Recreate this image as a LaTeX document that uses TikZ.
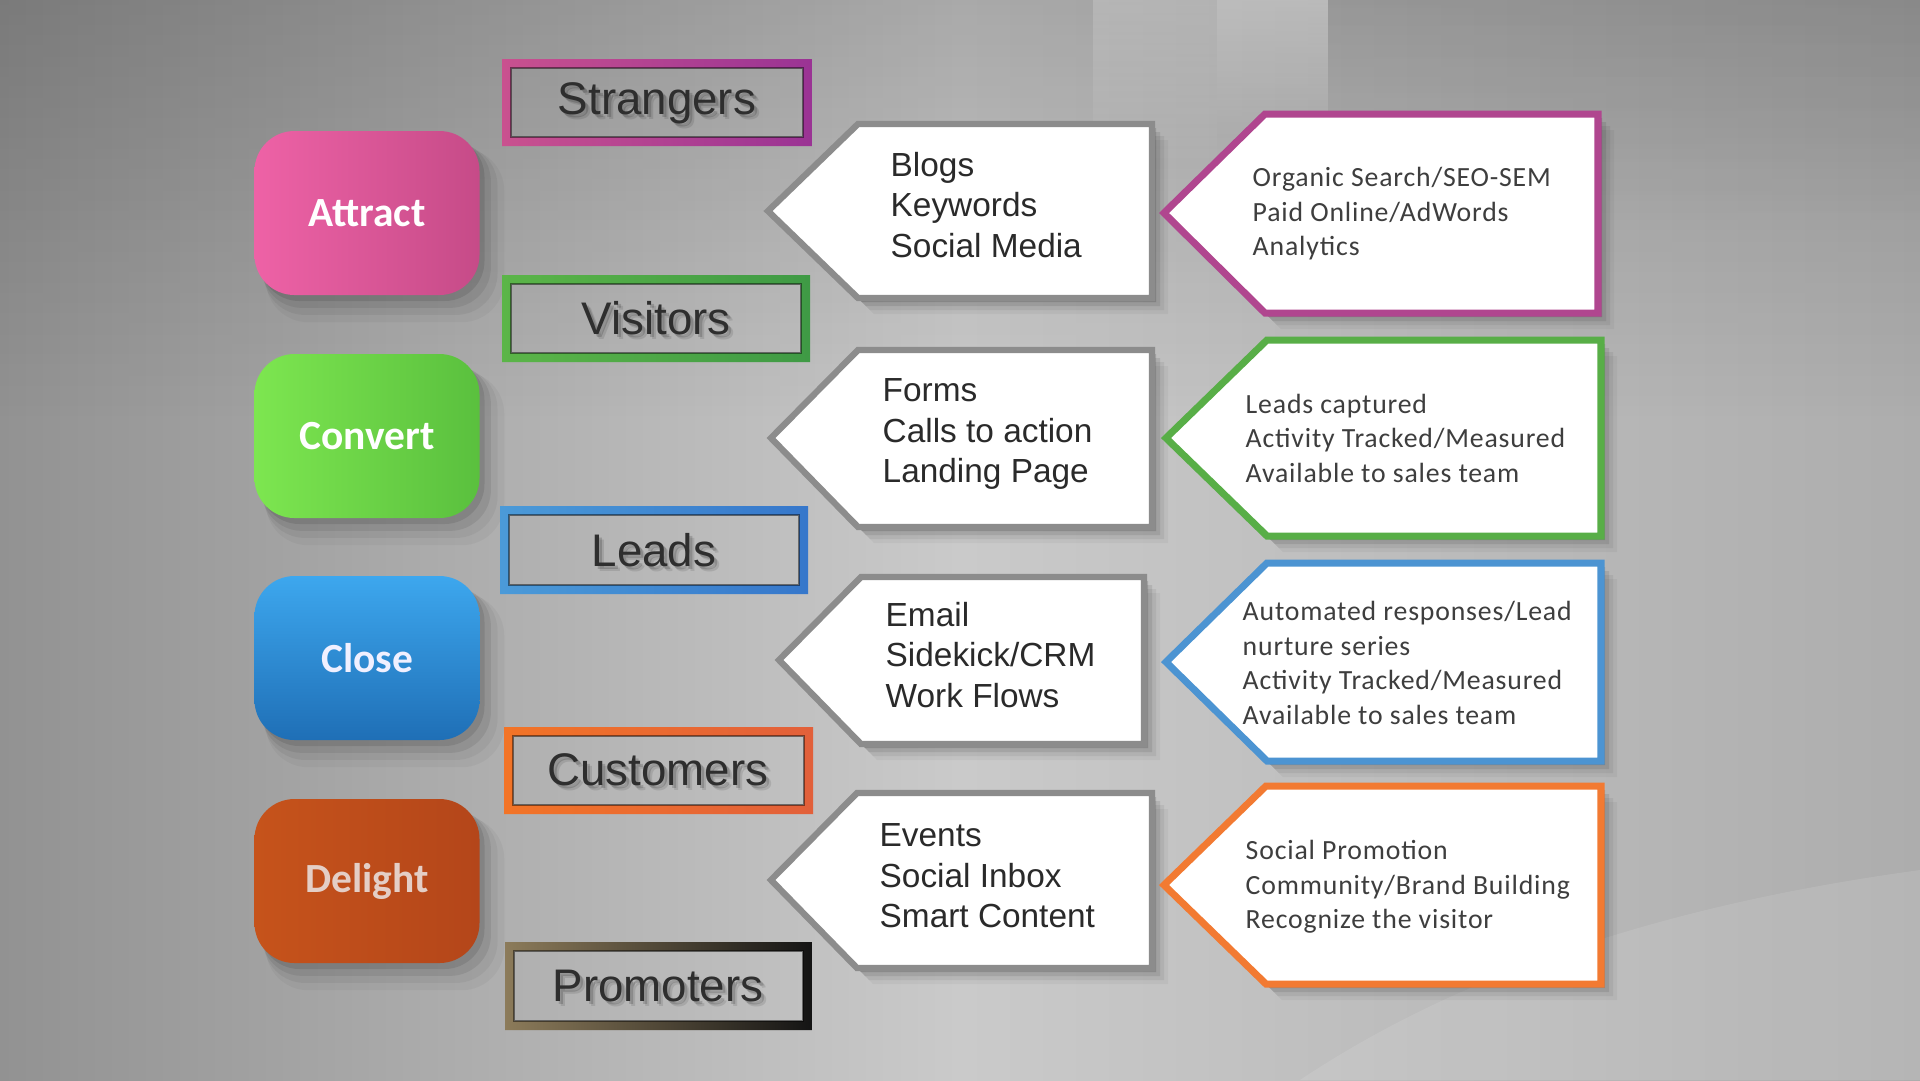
\documentclass[tikz,border=0pt]{standalone}
\usepackage{fontspec}
\setmainfont{Liberation Sans}
\newfontfamily\calib[LetterSpace=3]{Carlito}
\newfontfamily\calibb{Carlito}
\usetikzlibrary{shadows,fadings}

\definecolor{bgL}{HTML}{929292}
\definecolor{bgM}{HTML}{CACACA}
\definecolor{bgR}{HTML}{ADADAD}
\definecolor{midborder}{HTML}{8C8C8C}
\definecolor{midtxt}{HTML}{2A2A2A}
\definecolor{righttxt}{HTML}{3E3E3E}
\definecolor{lbltxt}{HTML}{2E2E2E}
\definecolor{pinkA}{HTML}{EE62A6}
\definecolor{pinkB}{HTML}{C64B88}
\definecolor{greenA}{HTML}{7DE650}
\definecolor{greenB}{HTML}{5AC03E}
\definecolor{blueA}{HTML}{3DA7EE}
\definecolor{blueB}{HTML}{1F6FB6}
\definecolor{orA}{HTML}{C6531B}
\definecolor{orB}{HTML}{B4461A}
\definecolor{delighttxt}{HTML}{E4CEC6}
\definecolor{fPinkL}{HTML}{C9518F}
\definecolor{fPinkR}{HTML}{9A3394}
\definecolor{fGreenL}{HTML}{5BB548}
\definecolor{fGreenR}{HTML}{3F9A45}
\definecolor{fBlueL}{HTML}{4B9AD8}
\definecolor{fBlueR}{HTML}{3677CB}
\definecolor{fOrL}{HTML}{F27427}
\definecolor{fOrR}{HTML}{E2603A}
\definecolor{fBlkL}{HTML}{8C7B5A}
\definecolor{fBlkR}{HTML}{141414}
\definecolor{rPink}{HTML}{B0468F}
\definecolor{rGreen}{HTML}{58AE47}
\definecolor{rBlue}{HTML}{4C94D2}
\definecolor{rOrange}{HTML}{F27A32}

\tikzfading[name=fadedown, top color=transparent!0, bottom color=transparent!100]

\begin{document}
\begin{tikzpicture}[x=0.1mm,y=-0.1mm,
  btnshadow/.style={drop shadow={shadow xshift=0.5mm, shadow yshift=-0.6mm, opacity=.10, fill=black},
                    drop shadow={shadow xshift=0.9mm, shadow yshift=-1.1mm, opacity=.07, fill=black, shadow scale=1.02},
                    drop shadow={shadow xshift=1.3mm, shadow yshift=-1.6mm, opacity=.05, fill=black, shadow scale=1.04},
                    drop shadow={shadow xshift=1.7mm, shadow yshift=-2.1mm, opacity=.035, fill=black, shadow scale=1.06}},
  btn/.style={rounded corners=4mm, minimum width=22.5mm, minimum height=16.4mm,
              font=\calibb\bfseries\fontsize{11.8}{14}\selectfont, btnshadow},
  pentshadow/.style={drop shadow={shadow xshift=0.4mm, shadow yshift=-0.4mm, opacity=.14, fill=black},
                     drop shadow={shadow xshift=0.8mm, shadow yshift=-0.8mm, opacity=.09, fill=black},
                     drop shadow={shadow xshift=1.2mm, shadow yshift=-1.2mm, opacity=.06, fill=black},
                     drop shadow={shadow xshift=1.6mm, shadow yshift=-1.6mm, opacity=.04, fill=black}},
  midbox/.style={draw=midborder, line width=1.8pt, fill=white, line join=miter, pentshadow},
  rightbox/.style={draw=#1, line width=2pt, fill=white, line join=miter, pentshadow},
  midtext/.style={anchor=west, align=left, inner sep=0pt, text=midtxt, font=\fontsize{9.5}{11.5}\selectfont},
  righttext/.style={anchor=west, align=left, inner sep=0pt, text=righttxt, font=\calib\fontsize{7.9}{9.8}\selectfont},
  lbl/.style={text=lbltxt, font=\fontsize{13}{15}\selectfont},
  lblsh/.style={text=black, opacity=#1, font=\fontsize{13}{15}\selectfont},
  innerline/.style={draw=black, opacity=.45, line width=0.5pt}
]
\useasboundingbox (0,0) rectangle (1920,1080);

% background
\shade[left color=bgL, right color=bgR, middle color=bgM] (0,0) rectangle (1920,1080);
\fill[black, opacity=.16, path fading=fadedown] (0,0) rectangle (1920,420);
\fill[white, opacity=.18, path fading=fadedown] (1093,0) rectangle (1217,170);
\fill[white, opacity=.28, path fading=fadedown] (1217,0) rectangle (1328,140);
\fill[black, opacity=.05, path fading=fadedown] (1328,0) rectangle (1920,220);
\fill[white, opacity=.10] (1300,1080) .. controls (1480,960) and (1700,900) .. (1920,870) -- (1920,1080) -- cycle;

% buttons
\node[btn, left color=pinkA, right color=pinkB, text=white] (attract) at (367,213) {Attract};
\node[btn, left color=greenA, right color=greenB, text=white] (convert) at (367,436) {Convert};
\node[btn, top color=blueA, bottom color=blueB, text=white!94!blue] (close) at (367,658) {Close};
\node[btn, left color=orA, right color=orB, text=delighttxt] (delight) at (367,881) {Delight};

% label frames
\shade[left color=fPinkL, right color=fPinkR, even odd rule] (502,59) rectangle (812,146) (511,68) rectangle (803,137);
\draw[innerline] (511,68) rectangle (803,137);
\shade[left color=fGreenL, right color=fGreenR, even odd rule] (502,275) rectangle (810,362) (511,284) rectangle (801,353);
\draw[innerline] (511,284) rectangle (801,353);
\shade[left color=fBlueL, right color=fBlueR, even odd rule] (500,506) rectangle (808,594) (509,515) rectangle (799,585);
\draw[innerline] (509,515) rectangle (799,585);
\shade[left color=fOrL, right color=fOrR, even odd rule] (504,727) rectangle (813,814) (513,736) rectangle (804,805);
\draw[innerline] (513,736) rectangle (804,805);
\shade[left color=fBlkL, middle color=fBlkR!90!white, right color=fBlkR, even odd rule] (505,942) rectangle (812,1030) (514,951) rectangle (803,1021);
\draw[innerline] (514,951) rectangle (803,1021);

\node[lblsh=.10] (strangersSh2) at (662,108) {Strangers};
\node[lblsh=.16] (strangersSh) at (660,106) {Strangers};
\node[lbl] (strangers) at (657,103) {Strangers};
\node[lblsh=.10] (visitorsSh2) at (661,323) {Visitors};
\node[lblsh=.16] (visitorsSh) at (659,321) {Visitors};
\node[lbl] (visitors) at (656,318) {Visitors};
\node[lblsh=.10] (leadsSh2) at (659,555) {Leads};
\node[lblsh=.16] (leadsSh) at (657,553) {Leads};
\node[lbl] (leads) at (654,550) {Leads};
\node[lblsh=.10] (customersSh2) at (663,775) {Customers};
\node[lblsh=.16] (customersSh) at (661,773) {Customers};
\node[lbl] (customers) at (658,770) {Customers};
\node[lblsh=.10] (promotersSh2) at (663,991) {Promoters};
\node[lblsh=.16] (promotersSh) at (661,989) {Promoters};
\node[lbl] (promoters) at (658,986) {Promoters};

% middle pentagons
\path[midbox] (858,124) -- (1152,124) -- (1152,298) -- (858,298) -- (768,211) -- cycle;
\path[midbox] (858,350) -- (1152,350) -- (1152,527) -- (858,527) -- (771,438) -- cycle;
\path[midbox] (861,577) -- (1144,577) -- (1144,744) -- (861,744) -- (779,660) -- cycle;
\path[midbox] (857,793) -- (1152,793) -- (1152,968) -- (857,968) -- (771,880) -- cycle;

\node[midtext] (m1) at (890,205) {Blogs\\Keywords\\Social Media};
\node[midtext] (m2) at (882,434) {Forms\\Calls to action\\Landing Page};
\node[midtext] (m3) at (885,655) {Email\\Sidekick/CRM\\Work Flows};
\node[midtext] (m4) at (879,876) {Events\\Social Inbox\\Smart Content};

% right pentagons
\path[rightbox=rPink] (1265,114) -- (1598,114) -- (1598,313) -- (1265,313) -- (1164,213) -- cycle;
\path[rightbox=rGreen] (1267,340) -- (1601,340) -- (1601,536) -- (1267,536) -- (1166,438) -- cycle;
\path[rightbox=rBlue] (1267,563) -- (1601,563) -- (1601,761) -- (1267,761) -- (1166,662) -- cycle;
\path[rightbox=rOrange] (1266,786) -- (1601,786) -- (1601,984) -- (1266,984) -- (1164,885) -- cycle;

\node[righttext] (r1) at (1252,214) {Organic Search/SEO-SEM\\Paid Online/AdWords\\Analytics};
\node[righttext] (r2) at (1245,438) {Leads captured\\Activity Tracked/Measured\\Available to sales team};
\node[righttext] (r3) at (1242,663) {Automated responses/Lead\\nurture series\\Activity Tracked/Measured\\Available to sales team};
\node[righttext] (r4) at (1245,887) {Social Promotion\\Community/Brand Building\\Recognize the visitor};
\end{tikzpicture}
\end{document}
